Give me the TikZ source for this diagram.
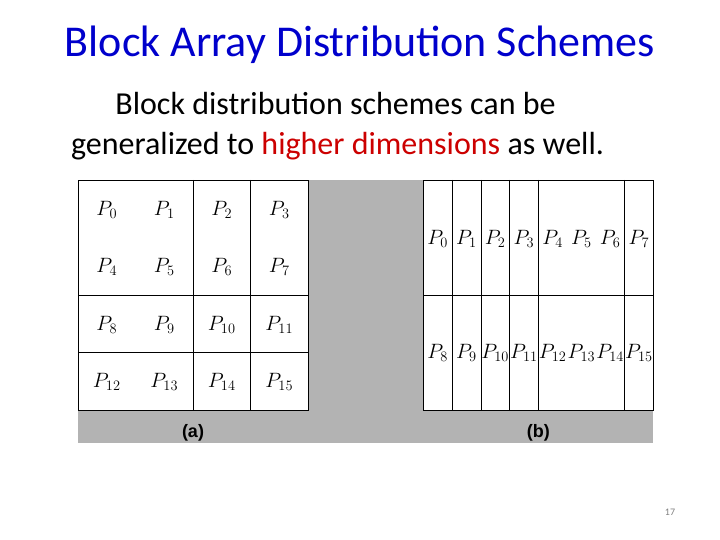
\documentclass[tikz,border=0pt]{standalone}
\usepackage{fontspec}
\setmainfont{Carlito}
\newfontfamily\capfont{Liberation Sans}
\usetikzlibrary{positioning}

\definecolor{titleblue}{RGB}{0,0,204}
\definecolor{hired}{RGB}{204,0,0}
\definecolor{panelgray}{RGB}{179,179,179}

\begin{document}
\begin{tikzpicture}[
  x=1pt, y=-1pt,
  every node/.style={inner sep=0pt},
  ttl/.style={font=\fontsize{44}{48}\selectfont, text=titleblue, anchor=base},
  body/.style={font=\fontsize{32}{36}\selectfont, text=black, anchor=base},
  grid/.style={draw=black, fill=white, line width=0.8pt},
  gline/.style={draw=black, line width=0.8pt},
  proc/.style={font=\fontsize{20.74}{24}\selectfont},
  subcap/.style={font=\capfont\bfseries\fontsize{18}{20}\selectfont},
]
\useasboundingbox (0,0) rectangle (720,540);

% ===== TITLE AND TEXT =====
\node[ttl] (title) at (360,57) {Block Array Distribution Schemes};
\node[body] (line1) at (335.5,115) {Block distribution schemes can be};
\node[body] (line2) at (337.5,155) {generalized to \textcolor{hired}{higher dimensions} as well.};

% ===== GRAY PANEL =====
\fill[panelgray] (78,180) rectangle (653.3,442.7);

% ===== GRID (a): 4x4 =====
\node[grid, minimum width=230, minimum height=230] (ga) at (193,295) {};
\draw[gline] (193,180) -- (193,410);
\draw[gline] (250.5,180) -- (250.5,410);
\draw[gline] (78,295) -- (308,295);
\draw[gline] (78,352.5) -- (308,352.5);

\node[proc] (a0)  at (106.75,209.5) {$P_{0}$};
\node[proc] (a1)  at (164.25,209.5) {$P_{1}$};
\node[proc] (a2)  at (221.75,209.5) {$P_{2}$};
\node[proc] (a3)  at (279.25,209.5) {$P_{3}$};
\node[proc] (a4)  at (106.75,267) {$P_{4}$};
\node[proc] (a5)  at (164.25,267) {$P_{5}$};
\node[proc] (a6)  at (221.75,267) {$P_{6}$};
\node[proc] (a7)  at (279.25,267) {$P_{7}$};
\node[proc] (a8)  at (106.75,324.5) {$P_{8}$};
\node[proc] (a9)  at (164.25,324.5) {$P_{9}$};
\node[proc] (a10) at (221.75,324.5) {$P_{10}$};
\node[proc] (a11) at (279.25,324.5) {$P_{11}$};
\node[proc] (a12) at (106.75,382) {$P_{12}$};
\node[proc] (a13) at (164.25,382) {$P_{13}$};
\node[proc] (a14) at (221.75,382) {$P_{14}$};
\node[proc] (a15) at (279.25,382) {$P_{15}$};

% ===== GRID (b): 2x8 =====
\node[grid, minimum width=230, minimum height=230] (gb) at (538.3,295) {};
\draw[gline] (452,180) -- (452,410);
\draw[gline] (481,180) -- (481,410);
\draw[gline] (509.8,180) -- (509.8,410);
\draw[gline] (538.5,180) -- (538.5,410);
\draw[gline] (624.5,180) -- (624.5,410);
\draw[gline] (423.3,295) -- (653.3,295);

\node[proc] (b0)  at (437.7,239) {$P_{0}$};
\node[proc] (b1)  at (466.4,239) {$P_{1}$};
\node[proc] (b2)  at (495.2,239) {$P_{2}$};
\node[proc] (b3)  at (523.9,239) {$P_{3}$};
\node[proc] (b4)  at (552.7,239) {$P_{4}$};
\node[proc] (b5)  at (581.4,239) {$P_{5}$};
\node[proc] (b6)  at (610.2,239) {$P_{6}$};
\node[proc] (b7)  at (638.9,239) {$P_{7}$};
\node[proc] (b8)  at (437.7,353) {$P_{8}$};
\node[proc] (b9)  at (466.4,353) {$P_{9}$};
\node[proc] (b10) at (495.2,353) {$P_{10}$};
\node[proc] (b11) at (523.9,353) {$P_{11}$};
\node[proc] (b12) at (552.7,353) {$P_{12}$};
\node[proc] (b13) at (581.4,353) {$P_{13}$};
\node[proc] (b14) at (610.2,353) {$P_{14}$};
\node[proc] (b15) at (638.9,353) {$P_{15}$};

% ===== CAPTIONS =====
\node[subcap] (capa) at (193,433) {(a)};
\node[subcap] (capb) at (538.3,433) {(b)};

% ===== PAGE NUMBER =====
\node[font=\fontsize{10}{12}\selectfont, text=gray] (pnum) at (670,512) {17};

\end{tikzpicture}
\end{document}
